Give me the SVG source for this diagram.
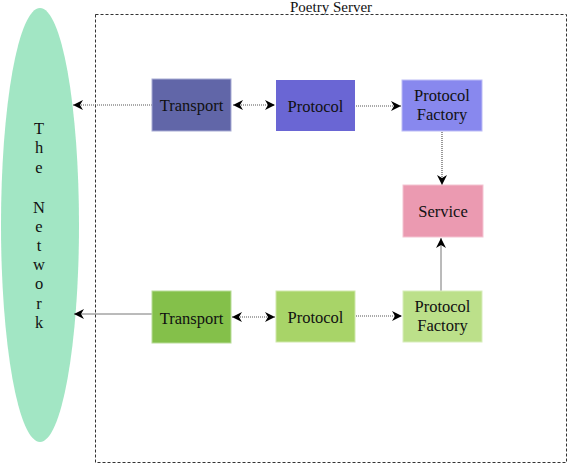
<svg xmlns="http://www.w3.org/2000/svg" width="569" height="464" viewBox="0 0 569 464">
<style>
text{font-family:"Liberation Serif","DejaVu Serif",serif;font-size:16.5px;fill:#111;text-anchor:middle}
.ttl{font-size:15px}
.dot{stroke:#555;stroke-width:1.2;stroke-dasharray:1,1;fill:none}
.sol{stroke:#777;stroke-width:1;fill:none}
</style>
<defs>
<marker id="ah" viewBox="0 0 10 10" refX="10" refY="5" markerWidth="10" markerHeight="10" markerUnits="userSpaceOnUse" orient="auto-start-reverse"><path d="M0,0 L10,5 L0,10 L3,5 z" fill="#000"/></marker>
</defs>
<g id="network"><ellipse cx="40" cy="225" rx="39" ry="217" fill="#a2e6c4"/>
<text x="39" y="134">T</text><text x="39" y="153">h</text><text x="39" y="173">e</text><text x="39" y="213">N</text><text x="39" y="232">e</text><text x="39" y="251">t</text><text x="39" y="270">w</text><text x="39" y="289">o</text><text x="39" y="309">r</text><text x="39" y="328">k</text></g>
<g id="server"><rect x="95.5" y="14.5" width="471" height="448" fill="none" stroke="#333" stroke-dasharray="3,2"/><text class="ttl" x="331" y="12">Poetry Server</text></g>
<g id="connectors">
<path class="dot" d="M152 105 H73" marker-end="url(#ah)"/>
<path class="dot" d="M233 105 H275" marker-start="url(#ah)" marker-end="url(#ah)"/>
<path class="dot" d="M356 106 H401" marker-end="url(#ah)"/>
<path class="dot" d="M442 132 V185" marker-end="url(#ah)"/>
<path class="sol" d="M152 314 H74" marker-end="url(#ah)"/>
<path class="dot" d="M232 317 H275" marker-start="url(#ah)" marker-end="url(#ah)"/>
<path class="dot" d="M356 316 H402" marker-end="url(#ah)"/>
<path class="sol" d="M441 291 V238" marker-end="url(#ah)"/>
</g>
<g id="t1"><rect x="152" y="79" width="79" height="52" fill="#6166a8" stroke="#a8abd4"/><text x="191.5" y="111">Transport</text></g>
<g id="p1"><rect x="276" y="80" width="79" height="51" fill="#6a66d4"/><text x="315.5" y="112">Protocol</text></g>
<g id="pf1"><rect x="402" y="80" width="80" height="51" fill="#8888ee" stroke="#bcbcf6"/><text x="442" y="101">Protocol</text><text x="442" y="120">Factory</text></g>
<g id="svc"><rect x="403" y="185" width="80" height="52" fill="#eb9ab1" stroke="#f4c4d2"/><text x="443" y="217">Service</text></g>
<g id="t2"><rect x="152" y="291" width="79" height="52" fill="#84c04a" stroke="#b8dc98"/><text x="191.5" y="324">Transport</text></g>
<g id="p2"><rect x="276" y="291" width="79" height="51" fill="#a8d468" stroke="#cfe8aa"/><text x="315.5" y="323">Protocol</text></g>
<g id="pf2"><rect x="403" y="291" width="79" height="51" fill="#bce08a" stroke="#d8edbc"/><text x="442.5" y="312">Protocol</text><text x="442.5" y="331">Factory</text></g>
</svg>
